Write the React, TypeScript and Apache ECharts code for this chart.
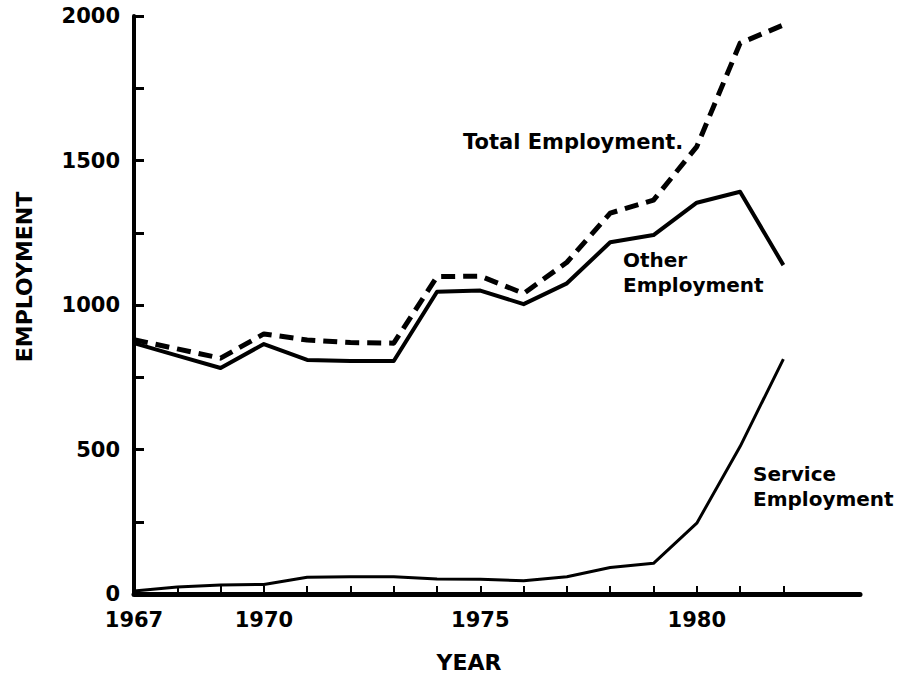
import React, { useEffect, useRef } from "react";
import * as echarts from "echarts";

const years = [1967, 1968, 1969, 1970, 1971, 1972, 1973, 1974, 1975, 1976, 1977, 1978, 1979, 1980, 1981, 1982];
const totalEmployment = [880, 848, 816, 900, 879, 870, 868, 1098, 1100, 1040, 1148, 1318, 1363, 1548, 1906, 1969];
const otherEmployment = [868, 825, 782, 865, 810, 806, 806, 1046, 1050, 1003, 1075, 1217, 1242, 1354, 1392, 1138];
const serviceEmployment = [10, 24, 31, 33, 58, 60, 60, 52, 51, 46, 60, 92, 106, 245, 510, 813];
const xTickYears = years;
const xLabelYears = [1967, 1970, 1975, 1980];
const yTicks = [0, 250, 500, 750, 1000, 1250, 1500, 1750, 2000];
const yLabels = [0, 500, 1000, 1500, 2000];

const FONT = "'DejaVu Sans', sans-serif";

export default function App() {
  const ref = useRef<HTMLDivElement>(null);
  useEffect(() => {
    if (!ref.current) return;
    const chart = echarts.init(ref.current, null, { renderer: "svg" });
    const pairs = (vals: number[]) => years.map((y, i) => [y, vals[i]]);
    chart.setOption({
      animation: false,
      backgroundColor: "#ffffff",
      grid: { left: 134, right: 46, top: 16, bottom: 85, containLabel: false },
      xAxis: {
        type: "value",
        min: 1967,
        max: 1983.77,
        interval: 1,
        splitLine: { show: false },
        axisLine: { show: true, lineStyle: { color: "#000", width: 5 } },
        axisTick: {
          show: true,
          inside: true,
          length: 8,
          lineStyle: { color: "#000", width: 2 },
          customValues: xTickYears,
        },
        axisLabel: {
          show: true,
          margin: 15,
          color: "#000",
          fontFamily: FONT,
          fontWeight: "bold",
          fontSize: 21,
          customValues: xLabelYears,
          formatter: (v: number) => String(v),
        },
      },
      yAxis: {
        type: "value",
        min: 0,
        max: 2000,
        interval: 250,
        splitLine: { show: false },
        axisLine: { show: true, lineStyle: { color: "#000", width: 4 } },
        axisTick: {
          show: true,
          inside: true,
          length: 10,
          lineStyle: { color: "#000", width: 3 },
          customValues: yTicks,
        },
        axisLabel: {
          show: true,
          margin: 14,
          color: "#000",
          fontFamily: FONT,
          fontWeight: "bold",
          fontSize: 21,
          customValues: yLabels,
          formatter: (v: number) => String(v),
        },
      },
      series: [
        {
          name: "Total Employment",
          type: "line",
          data: pairs(totalEmployment),
          showSymbol: false,
          lineStyle: { color: "#000", width: 5, type: [14, 8], join: "round" },
        },
        {
          name: "Other Employment",
          type: "line",
          data: pairs(otherEmployment),
          showSymbol: false,
          lineStyle: { color: "#000", width: 4, type: "solid", join: "round" },
        },
        {
          name: "Service Employment",
          type: "line",
          data: pairs(serviceEmployment),
          showSymbol: false,
          lineStyle: { color: "#000", width: 3, type: "solid", join: "round" },
        },
      ],
      graphic: [
        {
          type: "text",
          x: 24,
          y: 277,
          rotation: Math.PI / 2,
          style: {
            text: "EMPLOYMENT",
            fill: "#000",
            font: `bold 22px ${FONT}`,
            textAlign: "center",
            textVerticalAlign: "middle",
          },
        },
        {
          type: "text",
          x: 469,
          y: 662,
          style: {
            text: "YEAR",
            fill: "#000",
            font: `bold 22px ${FONT}`,
            textAlign: "center",
            textVerticalAlign: "middle",
          },
        },
        {
          type: "text",
          x: 463,
          y: 142,
          style: {
            text: "Total Employment.",
            fill: "#000",
            font: `bold 21px ${FONT}`,
            textAlign: "left",
            textVerticalAlign: "middle",
          },
        },
        {
          type: "text",
          x: 623,
          y: 272,
          style: {
            text: "Other\nEmployment",
            fill: "#000",
            font: `bold 20px ${FONT}`,
            lineHeight: 25,
            textAlign: "left",
            textVerticalAlign: "middle",
          },
        },
        {
          type: "text",
          x: 753,
          y: 486,
          style: {
            text: "Service\nEmployment",
            fill: "#000",
            font: `bold 20px ${FONT}`,
            lineHeight: 25,
            textAlign: "left",
            textVerticalAlign: "middle",
          },
        },
      ],
    });
    return () => chart.dispose();
  }, []);
  return <div ref={ref} style={{ width: 906, height: 679, position: "absolute", left: 0, top: 0 }} />;
}
